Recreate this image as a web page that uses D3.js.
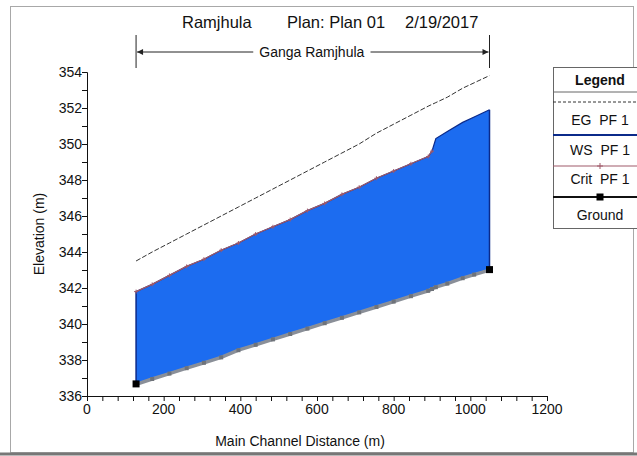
<!DOCTYPE html>
<html>
<head>
<meta charset="utf-8">
<script src="https://cdn.jsdelivr.net/npm/d3@7"></script>
<style>
  html, body { margin: 0; padding: 0; background: #fff; }
  svg { display: block; font-family: "Liberation Sans", Arial, sans-serif; }
</style>
</head>
<body>
<svg id="chart" width="637" height="456"></svg>
<script>
// Profile of the Ganga Ramjhula reach, plan "Plan 01", profile PF 1
const titleParts = ["Ramjhula", "Plan: Plan 01", "2/19/2017"];
const reachName = "Ganga Ramjhula";

// Main channel distance of each cross section (m)
const stations = [128, 170, 215, 260, 305, 350, 395, 440, 485, 530, 575, 620,
                  665, 710, 755, 800, 845, 890, 900, 910, 940, 980, 1010, 1050];
// Channel bed (m)
const ground = [336.7, 337.0, 337.3, 337.6, 337.9, 338.2, 338.6, 338.9, 339.2, 339.5, 339.8, 340.1,
                340.4, 340.7, 341.0, 341.3, 341.6, 341.9, 342.0, 342.1, 342.3, 342.6, 342.8, 343.05];
// Water surface PF 1 (m)
const wsPF1 = [341.8, 342.2, 342.7, 343.2, 343.6, 344.1, 344.5, 345.0, 345.4, 345.8, 346.3, 346.7,
               347.2, 347.6, 348.1, 348.5, 348.9, 349.3, 349.6, 350.3, 350.7, 351.2, 351.5, 351.9];
// Energy grade line PF 1 (m)
const egPF1 = [343.5, 344.0, 344.5, 345.0, 345.5, 346.0, 346.5, 347.0, 347.5, 348.0, 348.5, 349.0,
               349.5, 350.0, 350.6, 351.1, 351.6, 352.1, 352.2, 352.3, 352.6, 353.1, 353.4, 353.8];
// Critical water surface PF 1 (m); null where not computed
const critPF1 = [341.8, 342.2, 342.7, 343.2, 343.6, 344.1, 344.5, 345.0, 345.4, 345.8, 346.3, 346.7,
                 347.2, 347.6, 348.1, 348.5, 348.9, 349.3, 349.6, null, null, null, null, null];

const xTicks = [0, 200, 400, 600, 800, 1000, 1200];
const yTicks = [336, 338, 340, 342, 344, 346, 348, 350, 352, 354];
const legendItems = ["EG  PF 1", "WS  PF 1", "Crit  PF 1", "Ground"];

const svg = d3.select("#chart");
const x = d3.scaleLinear().domain([0, 1200]).range([87, 547]);
const y = d3.scaleLinear().domain([336, 354]).range([396, 72]);

const rows = stations.map((d, i) => ({
  d, g: ground[i], ws: wsPF1[i], eg: egPF1[i], crit: critPF1[i]
}));

// outer frame
svg.append("rect").attr("x", 10.5).attr("y", 6.5).attr("width", 623).attr("height", 446)
  .attr("fill", "none").attr("stroke", "#a8a8a8").attr("stroke-width", 1);
svg.append("line").attr("x1", 0).attr("x2", 637).attr("y1", 454).attr("y2", 454)
  .attr("stroke", "#777").attr("stroke-width", 3);

// title
const titleX = [182, 287, 405];
titleParts.forEach((t, i) => {
  svg.append("text").attr("x", titleX[i]).attr("y", 28)
    .attr("font-size", 16.5).attr("fill", "#111").text(t);
});

// reach extent marker
const rx0 = x(stations[0]), rx1 = x(stations[stations.length - 1]);
const ry = 52;
svg.append("line").attr("x1", rx0).attr("x2", rx0).attr("y1", 35).attr("y2", 68).attr("stroke", "#222");
svg.append("line").attr("x1", rx1).attr("x2", rx1).attr("y1", 35).attr("y2", 68).attr("stroke", "#222");
const reachLabel = svg.append("text").attr("x", (rx0 + rx1) / 2 - 1).attr("y", ry + 5)
  .attr("text-anchor", "middle").attr("font-size", 14).attr("fill", "#111").text(reachName);
const bb = reachLabel.node().getBBox();
svg.append("line").attr("x1", rx0 + 1).attr("x2", bb.x - 6).attr("y1", ry).attr("y2", ry).attr("stroke", "#222");
svg.append("line").attr("x1", bb.x + bb.width + 6).attr("x2", rx1 - 1).attr("y1", ry).attr("y2", ry).attr("stroke", "#222");
svg.append("path").attr("d", `M${rx0 + 1},${ry} l6,-3 l0,6 z`).attr("fill", "#222");
svg.append("path").attr("d", `M${rx1 - 1},${ry} l-6,-3 l0,6 z`).attr("fill", "#222");

// water body between bed and water surface
const area = d3.area().x(r => x(r.d)).y0(r => y(r.g)).y1(r => y(r.ws));
svg.append("path").datum(rows).attr("d", area).attr("fill", "#1c6cf0");

// end cross sections
[rows[0], rows[rows.length - 1]].forEach(r => {
  svg.append("line").attr("x1", x(r.d)).attr("x2", x(r.d)).attr("y1", y(r.g)).attr("y2", y(r.ws))
    .attr("stroke", "#0b2a8a").attr("stroke-width", 1.5);
});

// water surface
svg.append("path").datum(rows)
  .attr("d", d3.line().x(r => x(r.d)).y(r => y(r.ws)))
  .attr("fill", "none").attr("stroke", "#0b2a8a").attr("stroke-width", 1.2);

// critical water surface
const critRows = rows.filter(r => r.crit != null);
svg.append("path").datum(critRows)
  .attr("d", d3.line().x(r => x(r.d)).y(r => y(r.crit)))
  .attr("fill", "none").attr("stroke", "#a05a6a").attr("stroke-width", 1.2);
svg.append("g").selectAll("path").data(critRows).join("path")
  .attr("d", r => `M${x(r.d) - 2},${y(r.crit)}h4M${x(r.d)},${y(r.crit) - 2}v4`)
  .attr("stroke", "#a05a6a").attr("stroke-width", 1);

// energy grade line
svg.append("path").datum(rows)
  .attr("d", d3.line().x(r => x(r.d)).y(r => y(r.eg)))
  .attr("fill", "none").attr("stroke", "#333").attr("stroke-width", 1)
  .attr("stroke-dasharray", "5,2");

// ground
svg.append("path").datum(rows)
  .attr("d", d3.line().x(r => x(r.d)).y(r => y(r.g) + 1))
  .attr("fill", "none").attr("stroke", "#8a8f98").attr("stroke-width", 3.5);
svg.append("g").selectAll("rect").data(rows.slice(1, -1)).join("rect")
  .attr("x", r => x(r.d) - 2).attr("y", r => y(r.g) - 1).attr("width", 4).attr("height", 4)
  .attr("fill", "#6f737a");
[rows[0], rows[rows.length - 1]].forEach(r => {
  svg.append("rect").attr("x", x(r.d) - 3.5).attr("y", y(r.g) - 3).attr("width", 7).attr("height", 7)
    .attr("fill", "#000");
});

// axes
const xAxis = svg.append("g").attr("transform", `translate(0,${y(336)})`)
  .call(d3.axisBottom(x).tickValues(d3.range(0, 1201, 40)).tickSize(5).tickFormat(""));
xAxis.selectAll("path, line").attr("stroke", "#111");
svg.append("g").selectAll("text").data(xTicks).join("text")
  .attr("x", d => x(d)).attr("y", 414).attr("text-anchor", "middle")
  .attr("font-size", 14).attr("fill", "#111").text(d => d);

const yAxis = svg.append("g").attr("transform", `translate(${x(0)},0)`)
  .call(d3.axisLeft(y).tickValues(d3.range(336, 354.5, 1)).tickSize(5).tickFormat(""));
yAxis.selectAll("path, line").attr("stroke", "#111");
svg.append("g").selectAll("text").data(yTicks).join("text")
  .attr("x", 82).attr("y", d => y(d) + 5).attr("text-anchor", "end")
  .attr("font-size", 14).attr("fill", "#111").text(d => d);

svg.append("text").attr("x", 300).attr("y", 446).attr("text-anchor", "middle")
  .attr("font-size", 14).attr("fill", "#111").text("Main Channel Distance (m)");
svg.append("text").attr("transform", "translate(44,234) rotate(-90)").attr("text-anchor", "middle")
  .attr("font-size", 14).attr("fill", "#111").text("Elevation (m)");

// legend
const lg = svg.append("g").attr("transform", "translate(553,67)");
const lw = 96, lcx = 47;
lg.append("rect").attr("x", 0.5).attr("y", 0.5).attr("width", lw).attr("height", 161)
  .attr("fill", "#fff").attr("stroke", "#666");
lg.append("text").attr("x", lcx).attr("y", 18).attr("text-anchor", "middle")
  .attr("font-size", 14).attr("font-weight", "bold").attr("fill", "#111").text("Legend");
lg.append("line").attr("x1", 0).attr("x2", lw).attr("y1", 25).attr("y2", 25).attr("stroke", "#666");

const symY = [35, 68, 99, 130];
const txtY = [58, 88, 117, 153];
// EG symbol
lg.append("line").attr("x1", 0).attr("x2", lw).attr("y1", symY[0]).attr("y2", symY[0])
  .attr("stroke", "#333").attr("stroke-dasharray", "3,2");
// WS symbol
lg.append("line").attr("x1", 0).attr("x2", lw).attr("y1", symY[1]).attr("y2", symY[1])
  .attr("stroke", "#0b2a8a").attr("stroke-width", 2);
// Crit symbol
lg.append("line").attr("x1", 0).attr("x2", lw).attr("y1", symY[2]).attr("y2", symY[2])
  .attr("stroke", "#a05a6a").attr("stroke-width", 1.2);
lg.append("path").attr("d", `M${lcx - 3},${symY[2]}h6M${lcx},${symY[2] - 3}v6`)
  .attr("stroke", "#a05a6a").attr("stroke-width", 1);
// Ground symbol
lg.append("line").attr("x1", 0).attr("x2", lw).attr("y1", symY[3]).attr("y2", symY[3])
  .attr("stroke", "#111").attr("stroke-width", 2);
lg.append("rect").attr("x", lcx - 3.5).attr("y", symY[3] - 3.5).attr("width", 7).attr("height", 7)
  .attr("fill", "#000");

legendItems.forEach((t, i) => {
  lg.append("text").attr("x", lcx).attr("y", txtY[i]).attr("text-anchor", "middle")
    .attr("font-size", 14).attr("fill", "#111").attr("xml:space", "preserve").text(t);
});
</script>
</body>
</html>
